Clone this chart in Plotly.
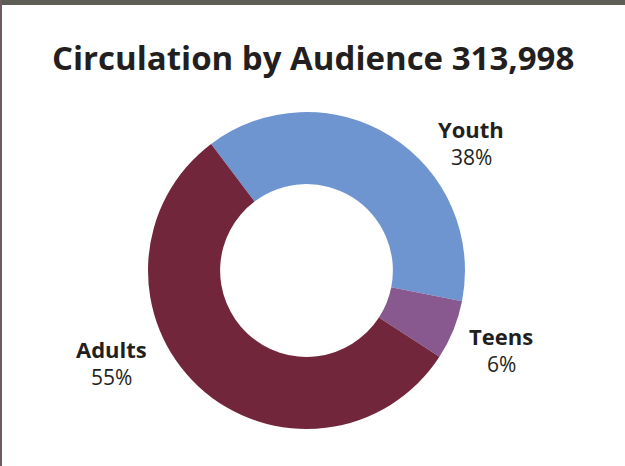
import plotly.graph_objects as go

categories = ["Youth", "Teens", "Adults"]
percents = [38, 6, 55]
colors = ["#6f95d1", "#87598f", "#72263c"]
title_text = "Circulation by Audience 313,998"

W, H = 625, 466

fig = go.Figure()
fig.add_trace(go.Pie(
    labels=categories,
    values=percents,
    hole=0.545,
    sort=False,
    direction="clockwise",
    rotation=-37,
    marker=dict(colors=colors, line=dict(width=0)),
    textinfo="none",
    hoverinfo="label+value",
    showlegend=False,
    domain=dict(x=[148 / W, 465 / W], y=[1 - 429 / H, 1 - 112 / H]),
))

label_pos = {"Youth": (471, 129), "Teens": (501, 336), "Adults": (111, 349)}
font_fam = "Open Sans, Noto Sans, sans-serif"
for cat, p in zip(categories, percents):
    x, y = label_pos[cat]
    fig.add_annotation(x=x / W, y=1 - y / H, xref="paper", yref="paper",
                       xanchor="center", yanchor="middle",
                       text=f"<b>{cat}</b>", showarrow=False,
                       font=dict(family=font_fam, size=22, color="#231f20"))
    fig.add_annotation(x=x / W, y=1 - (y + 28) / H, xref="paper", yref="paper",
                       xanchor="center", yanchor="middle",
                       text=f"{p}%", showarrow=False,
                       font=dict(family=font_fam, size=21, color="#231f20"))

fig.add_annotation(x=313 / W, y=1 - 58 / H, xref="paper", yref="paper",
                   xanchor="center", yanchor="middle",
                   text=f"<b>{title_text}</b>", showarrow=False,
                   font=dict(family=font_fam, size=33, color="#231f20"))

# dark photo-like border at top and left
fig.add_shape(type="rect", xref="paper", yref="paper", x0=0, x1=1,
              y0=1 - 5 / H, y1=1, fillcolor="#5d5d56", line=dict(width=0), layer="above")
fig.add_shape(type="rect", xref="paper", yref="paper", x0=0, x1=2 / W,
              y0=0, y1=1, fillcolor="#6e5a62", line=dict(width=0), layer="above")

fig.update_layout(
    width=W, height=H,
    margin=dict(l=0, r=0, t=0, b=0),
    paper_bgcolor="white",
    plot_bgcolor="white",
)

fig.write_html("out.html", config={"displayModeBar": False},
               post_script="document.body.style.margin='0';")
